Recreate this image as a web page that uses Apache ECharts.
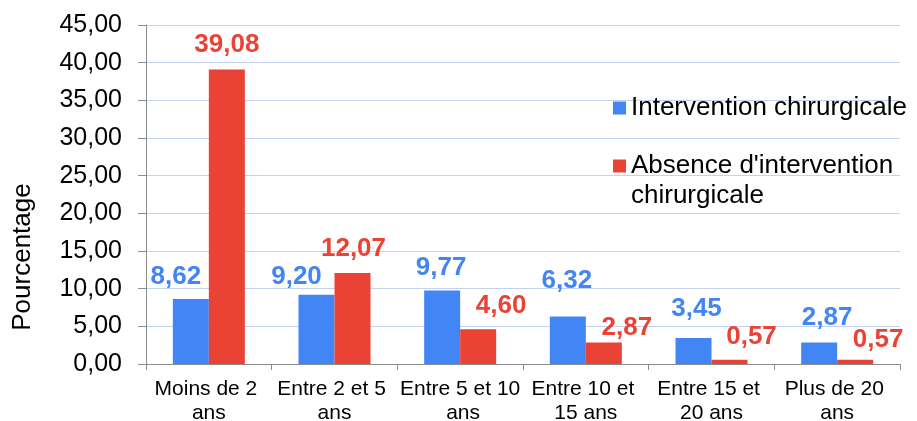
<!DOCTYPE html>
<html>
<head>
<meta charset="utf-8">
<script src="https://cdn.jsdelivr.net/npm/echarts@6/dist/echarts.min.js"></script>
<style>
  html, body { margin: 0; padding: 0; background: #fff; }
  #chart { width: 917px; height: 421px; }
</style>
</head>
<body>
<div id="chart"></div>
<script>
const categories = ['Moins de 2 ans', 'Entre 2 et 5 ans', 'Entre 5 et 10 ans', 'Entre 10 et 15 ans', 'Entre 15 et 20 ans', 'Plus de 20 ans']
const seriesNames = ['Intervention chirurgicale', "Absence d'intervention chirurgicale"]
const avecIntervention = [8.62, 9.20, 9.77, 6.32, 3.45, 2.87]
const sansIntervention = [39.08, 12.07, 4.60, 2.87, 0.57, 0.57]
const yTicks = [0, 5, 10, 15, 20, 25, 30, 35, 40, 45]

// nudges for the data labels, as placed by hand in the original
const blueLabelShift = [[-15, -9], [-20, -5], [-1, -10], [-1, -23], [3, -16], [8, -12]]
const redLabelShift = [[0, -12], [1, -11], [23, -11], [23, -2], [22, -10], [23, -7]]

const FONT = '"Liberation Sans", Arial, sans-serif'
const BLUE = '#4285f4'
const RED = '#ea4335'

const fmt = v => v.toFixed(2).replace('.', ',')

function withLabels(values, shifts) {
  return values.map((v, i) => ({
    value: v,
    label: { offset: shifts[i] }
  }))
}

const legendText = { fontSize: 26, color: '#000', fontFamily: FONT, lineHeight: 30 }

const chart = echarts.init(document.getElementById('chart'))

chart.setOption({
  animation: false,
  textStyle: { fontFamily: FONT },
  grid: { left: 146, right: 17, top: 25, bottom: 57, outerBoundsMode: 'none' },
  legend: [{
    orient: 'vertical',
    left: 613,
    top: 93,
    padding: 0,
    icon: 'rect',
    itemWidth: 13,
    itemHeight: 13,
    selectedMode: false,
    data: [seriesNames[0]],
    textStyle: legendText
  }, {
    orient: 'vertical',
    left: 613,
    top: 121,
    padding: 0,
    icon: 'rect',
    itemWidth: 13,
    itemHeight: 13,
    selectedMode: false,
    data: [seriesNames[1]],
    // blank first line keeps the square level with the first text line
    formatter: name => '{s| }\n{t|' + name.replace("d'intervention ", "d'intervention}\n{t|") + '}',
    textStyle: Object.assign({}, legendText, {
      rich: {
        s: { fontSize: 10, lineHeight: 30 },
        t: { fontSize: 26, lineHeight: 30, color: '#000', fontFamily: FONT }
      }
    })
  }],
  xAxis: {
    type: 'category',
    data: categories,
    axisLine: { lineStyle: { color: '#8c8c8c', width: 1 } },
    axisTick: { show: true, length: 6, lineStyle: { color: '#8c8c8c' } },
    axisLabel: {
      color: '#000',
      fontSize: 21,
      fontFamily: FONT,
      lineHeight: 24,
      margin: 13,
      width: 125,
      overflow: 'break',
      interval: 0
    }
  },
  yAxis: {
    type: 'value',
    min: yTicks[0],
    max: yTicks[yTicks.length - 1],
    interval: yTicks[1] - yTicks[0],
    axisLine: { show: true, lineStyle: { color: '#8c8c8c', width: 1 } },
    axisTick: { show: true, length: 8, lineStyle: { color: '#8c8c8c' } },
    splitLine: { lineStyle: { color: '#c3d3ee', width: 1 } },
    axisLabel: {
      color: '#000',
      fontSize: 25,
      fontFamily: FONT,
      margin: 24,
      formatter: v => fmt(v)
    }
  },
  graphic: [{
    type: 'text',
    x: 23,
    y: 257,
    rotation: Math.PI / 2,
    style: {
      text: 'Pourcentage',
      fontSize: 26,
      fontFamily: FONT,
      fill: '#000',
      textAlign: 'center',
      textVerticalAlign: 'middle'
    }
  }],
  series: [{
    name: seriesNames[0],
    type: 'bar',
    barWidth: 36,
    barGap: '0%',
    itemStyle: { color: BLUE },
    label: {
      show: true,
      position: 'top',
      distance: 0,
      color: BLUE,
      fontSize: 26,
      fontWeight: 'bold',
      fontFamily: FONT,
      formatter: p => fmt(p.value)
    },
    data: withLabels(avecIntervention, blueLabelShift)
  }, {
    name: seriesNames[1],
    type: 'bar',
    barWidth: 36,
    barGap: '0%',
    itemStyle: { color: RED },
    label: {
      show: true,
      position: 'top',
      distance: 0,
      color: RED,
      fontSize: 26,
      fontWeight: 'bold',
      fontFamily: FONT,
      formatter: p => fmt(p.value)
    },
    data: withLabels(sansIntervention, redLabelShift)
  }]
})
</script>
</body>
</html>
